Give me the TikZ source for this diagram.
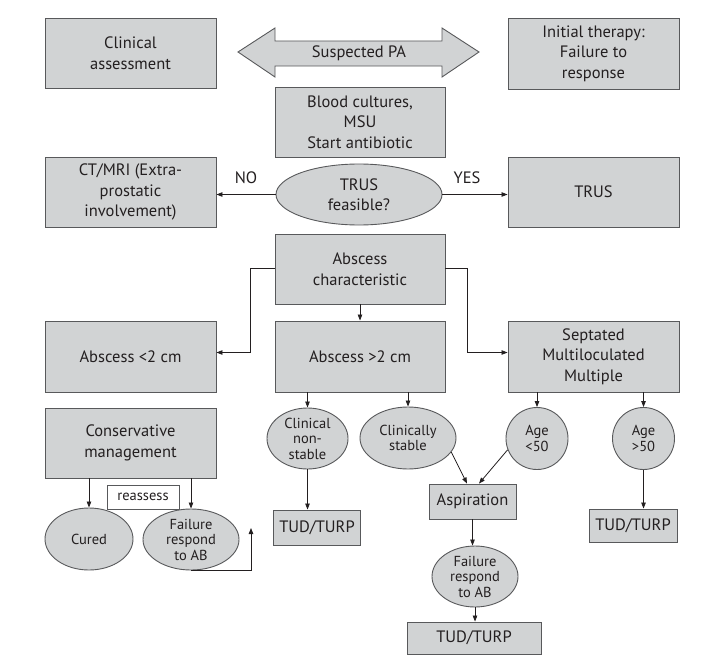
\documentclass[tikz,border=0pt]{standalone}
\usepackage{fontspec}
\setmainfont{PT Sans}
\usetikzlibrary{arrows.meta,shapes.geometric}
\definecolor{boxfill}{HTML}{D1D3D4}
\definecolor{boxline}{HTML}{58595B}
\definecolor{ink}{HTML}{231F20}

\begin{document}
\begin{tikzpicture}[x=1pt,y=-1pt,
  box/.style={draw=boxline,fill=boxfill,line width=0.9pt,inner sep=0pt,align=center,text=ink,font=\fontsize{16.5}{20.5}\selectfont},
  big/.style={box,minimum width=171pt,minimum height=70pt},
  small/.style={box,minimum width=87pt,minimum height=34pt},
  oval/.style={ellipse,draw=boxline,fill=boxfill,line width=0.9pt,inner sep=-4pt,align=center,text=ink,font=\fontsize{14.5}{15.5}\selectfont},
  arr/.style={-{Triangle[length=6pt,width=4.5pt]},draw=ink,line width=0.8pt},
  lbl/.style={text=ink,font=\fontsize{16.5}{20.5}\selectfont}]
\useasboundingbox (0,0) rectangle (722,661);
% top row
\node[big] (clin) at (130.5,53) {Clinical\\assessment};
\draw[draw=boxline,fill=boxfill,line width=0.9pt] (238,52) -- (275,28) -- (275,41) -- (442,41) -- (442,28) -- (479,52)
  -- (442,77) -- (442,66) -- (275,66) -- (275,77) -- cycle;
\node[lbl] (pa) at (359,53) {Suspected PA};
\node[big,minimum height=71pt] (init) at (593.5,53.5) {Initial therapy:\\Failure to\\response};
\node[big,minimum width=170pt] (blood) at (360,122) {Blood cultures,\\MSU\\Start antibiotic};
% TRUS decision
\node[big] (ctmri) at (130.5,192) {CT/MRI (Extra-\\prostatic\\involvement)};
\node[oval,minimum width=166pt,minimum height=61pt,font=\fontsize{16.5}{20.5}\selectfont] (feas) at (359,194.5) {TRUS\\feasible?};
\node[big] (trus) at (593.5,192) {TRUS};
\draw[arr] (feas.west) -- (feas.west -| ctmri.east);
\draw[arr] (feas.east) -- (feas.east -| trus.west);
\node[lbl] (no) at (246,178) {NO};
\node[lbl] (yes) at (467,178) {YES};
% abscess size
\node[big,minimum width=170pt] (absch) at (360,269) {Abscess\\characteristic};
\node[big,minimum height=71pt] (small2) at (130.5,356.5) {Abscess <2 cm};
\node[big,minimum width=170pt,minimum height=71pt] (large2) at (360,356.5) {Abscess >2 cm};
\node[big,minimum height=71pt] (sept) at (593.5,356.5) {Septated\\Multiloculated\\Multiple};
\draw[arr] (absch.south) -- (large2.north);
\draw[arr] ([yshift=1pt]absch.west) -- ++(-24,0) |- ([yshift=4pt]small2.east);
\draw[arr] ([yshift=1pt]absch.east) -- ++(22,0) |- ([yshift=4pt]sept.west);
% small abscess branch
\node[big] (cons) at (130.5,443) {Conservative\\management};
\node[oval,minimum width=88pt,minimum height=62pt] (cured) at (89,539) {Cured};
\node[box,fill=white,minimum width=72pt,minimum height=24pt,font=\fontsize{14.5}{15.5}\selectfont] (reass) at (143,497) {reassess};
\node[oval,minimum width=96pt,minimum height=61pt] (failL) at (191,539.5) {Failure\\respond\\to AB};
\coordinate (back) at (251,528);
\draw[arr] (cured.north |- cons.south) -- (cured.north);
\draw[arr] (failL.north |- cons.south) -- (failL.north);
\draw[arr] (failL.south) -| (back);
% large abscess branch
\node[oval,minimum width=81pt,minimum height=61pt] (nonst) at (307.5,438.5) {Clinical\\non-\\stable};
\node[oval,minimum width=96pt,minimum height=62pt] (stable) at (408,438) {Clinically\\stable};
\node[oval,minimum width=62pt,minimum height=62pt] (ageL) at (537,438.5) {Age\\<50};
\node[oval,minimum width=62pt,minimum height=62pt] (ageG) at (643.5,438.5) {Age\\>50};
\draw[arr] (nonst.north |- large2.south) -- (nonst.north);
\draw[arr] (stable.north |- large2.south) -- (stable.north);
\draw[arr] (ageL.north |- sept.south) -- (ageL.north);
\draw[arr] (ageG.north |- sept.south) -- (ageG.north);
\node[small,minimum height=35pt] (turpL) at (317,527.5) {TUD/TURP};
\node[small,minimum height=35pt] (asp) at (472.5,501.5) {Aspiration};
\node[small,minimum width=88pt,minimum height=33pt] (turpR) at (633,525.5) {TUD/TURP};
\node[oval,minimum width=86pt,minimum height=61pt] (failC) at (475,576.5) {Failure\\respond\\to AB};
\node[small,minimum width=134pt,minimum height=32pt] (turpB) at (474,638) {TUD/TURP};
\draw[arr] (nonst.south) -- (nonst.south |- turpL.north);
\draw[arr] (stable.-18) -- ([xshift=-5.5pt]asp.north);
\draw[arr] (ageL.201) -- ([xshift=6.5pt]asp.north);
\draw[arr] (ageG.south) -- (ageG.south |- turpR.north);
\draw[arr] (asp.south) -- (asp.south |- failC.north);
\draw[arr] (failC.south) -- (failC.south |- turpB.north);
\end{tikzpicture}
\end{document}
